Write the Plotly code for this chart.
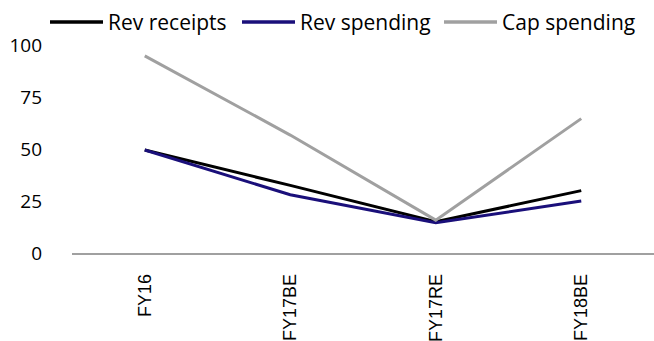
import plotly.graph_objects as go

categories = ["FY16", "FY17BE", "FY17RE", "FY18BE"]
rev_receipts = [49.5, 32.5, 15.0, 30.0]
rev_spending = [49.5, 28.0, 14.5, 25.0]
cap_spending = [94.8, 56.7, 15.8, 64.6]
y_ticks = [0, 25, 50, 75, 100]

series_names = ["Rev receipts", "Rev spending", "Cap spending"]
series_values = [rev_receipts, rev_spending, cap_spending]
series_colors = ["#000000", "#1a0f7a", "#a0a0a0"]

W, H = 654, 341
fig = go.Figure()
for name, vals, color in zip(series_names, series_values, series_colors):
    fig.add_trace(go.Scatter(
        x=categories, y=vals, name=name, mode="lines",
        line=dict(color=color, width=3), showlegend=False,
    ))

# Legend row across the top: a long line sample followed by its label
legend_starts = [50, 242, 444]   # pixel x of each line sample
sample_len = 53
leg_y = (H - 22 - 88) / (H - 45 - 88)
for x0, name, color in zip(legend_starts, series_names, series_colors):
    fig.add_shape(
        type="line", xref="paper", yref="paper",
        x0=(x0 - 72) / (W - 72), x1=(x0 + sample_len - 72) / (W - 72),
        y0=leg_y, y1=leg_y,
        line=dict(color=color, width=3.5),
    )
    fig.add_annotation(
        xref="paper", yref="paper",
        x=(x0 + sample_len + 3 - 72) / (W - 72), y=leg_y,
        xanchor="left", yanchor="middle", showarrow=False, text=name,
        font=dict(family="Open Sans", size=21, color="#000"),
    )

fig.update_layout(
    width=W, height=H,
    margin=dict(l=72, r=0, t=45, b=88),
    paper_bgcolor="white", plot_bgcolor="white",
    xaxis=dict(
        type="category", range=[-0.5, 3.5],
        showgrid=False, zeroline=False,
        showline=True, linecolor="#a0a0a0", linewidth=1.5,
        tickangle=-90, ticks="", ticklabelstandoff=12,
        tickfont=dict(family="Liberation Sans", size=18, color="#000"),
    ),
    yaxis=dict(
        range=[0, 100], tickvals=y_ticks, showgrid=False, zeroline=False,
        showline=False, ticks="", ticklabelstandoff=29,
        tickfont=dict(family="Open Sans", size=19, color="#000"),
    ),
)

fig.write_html("out.html")
